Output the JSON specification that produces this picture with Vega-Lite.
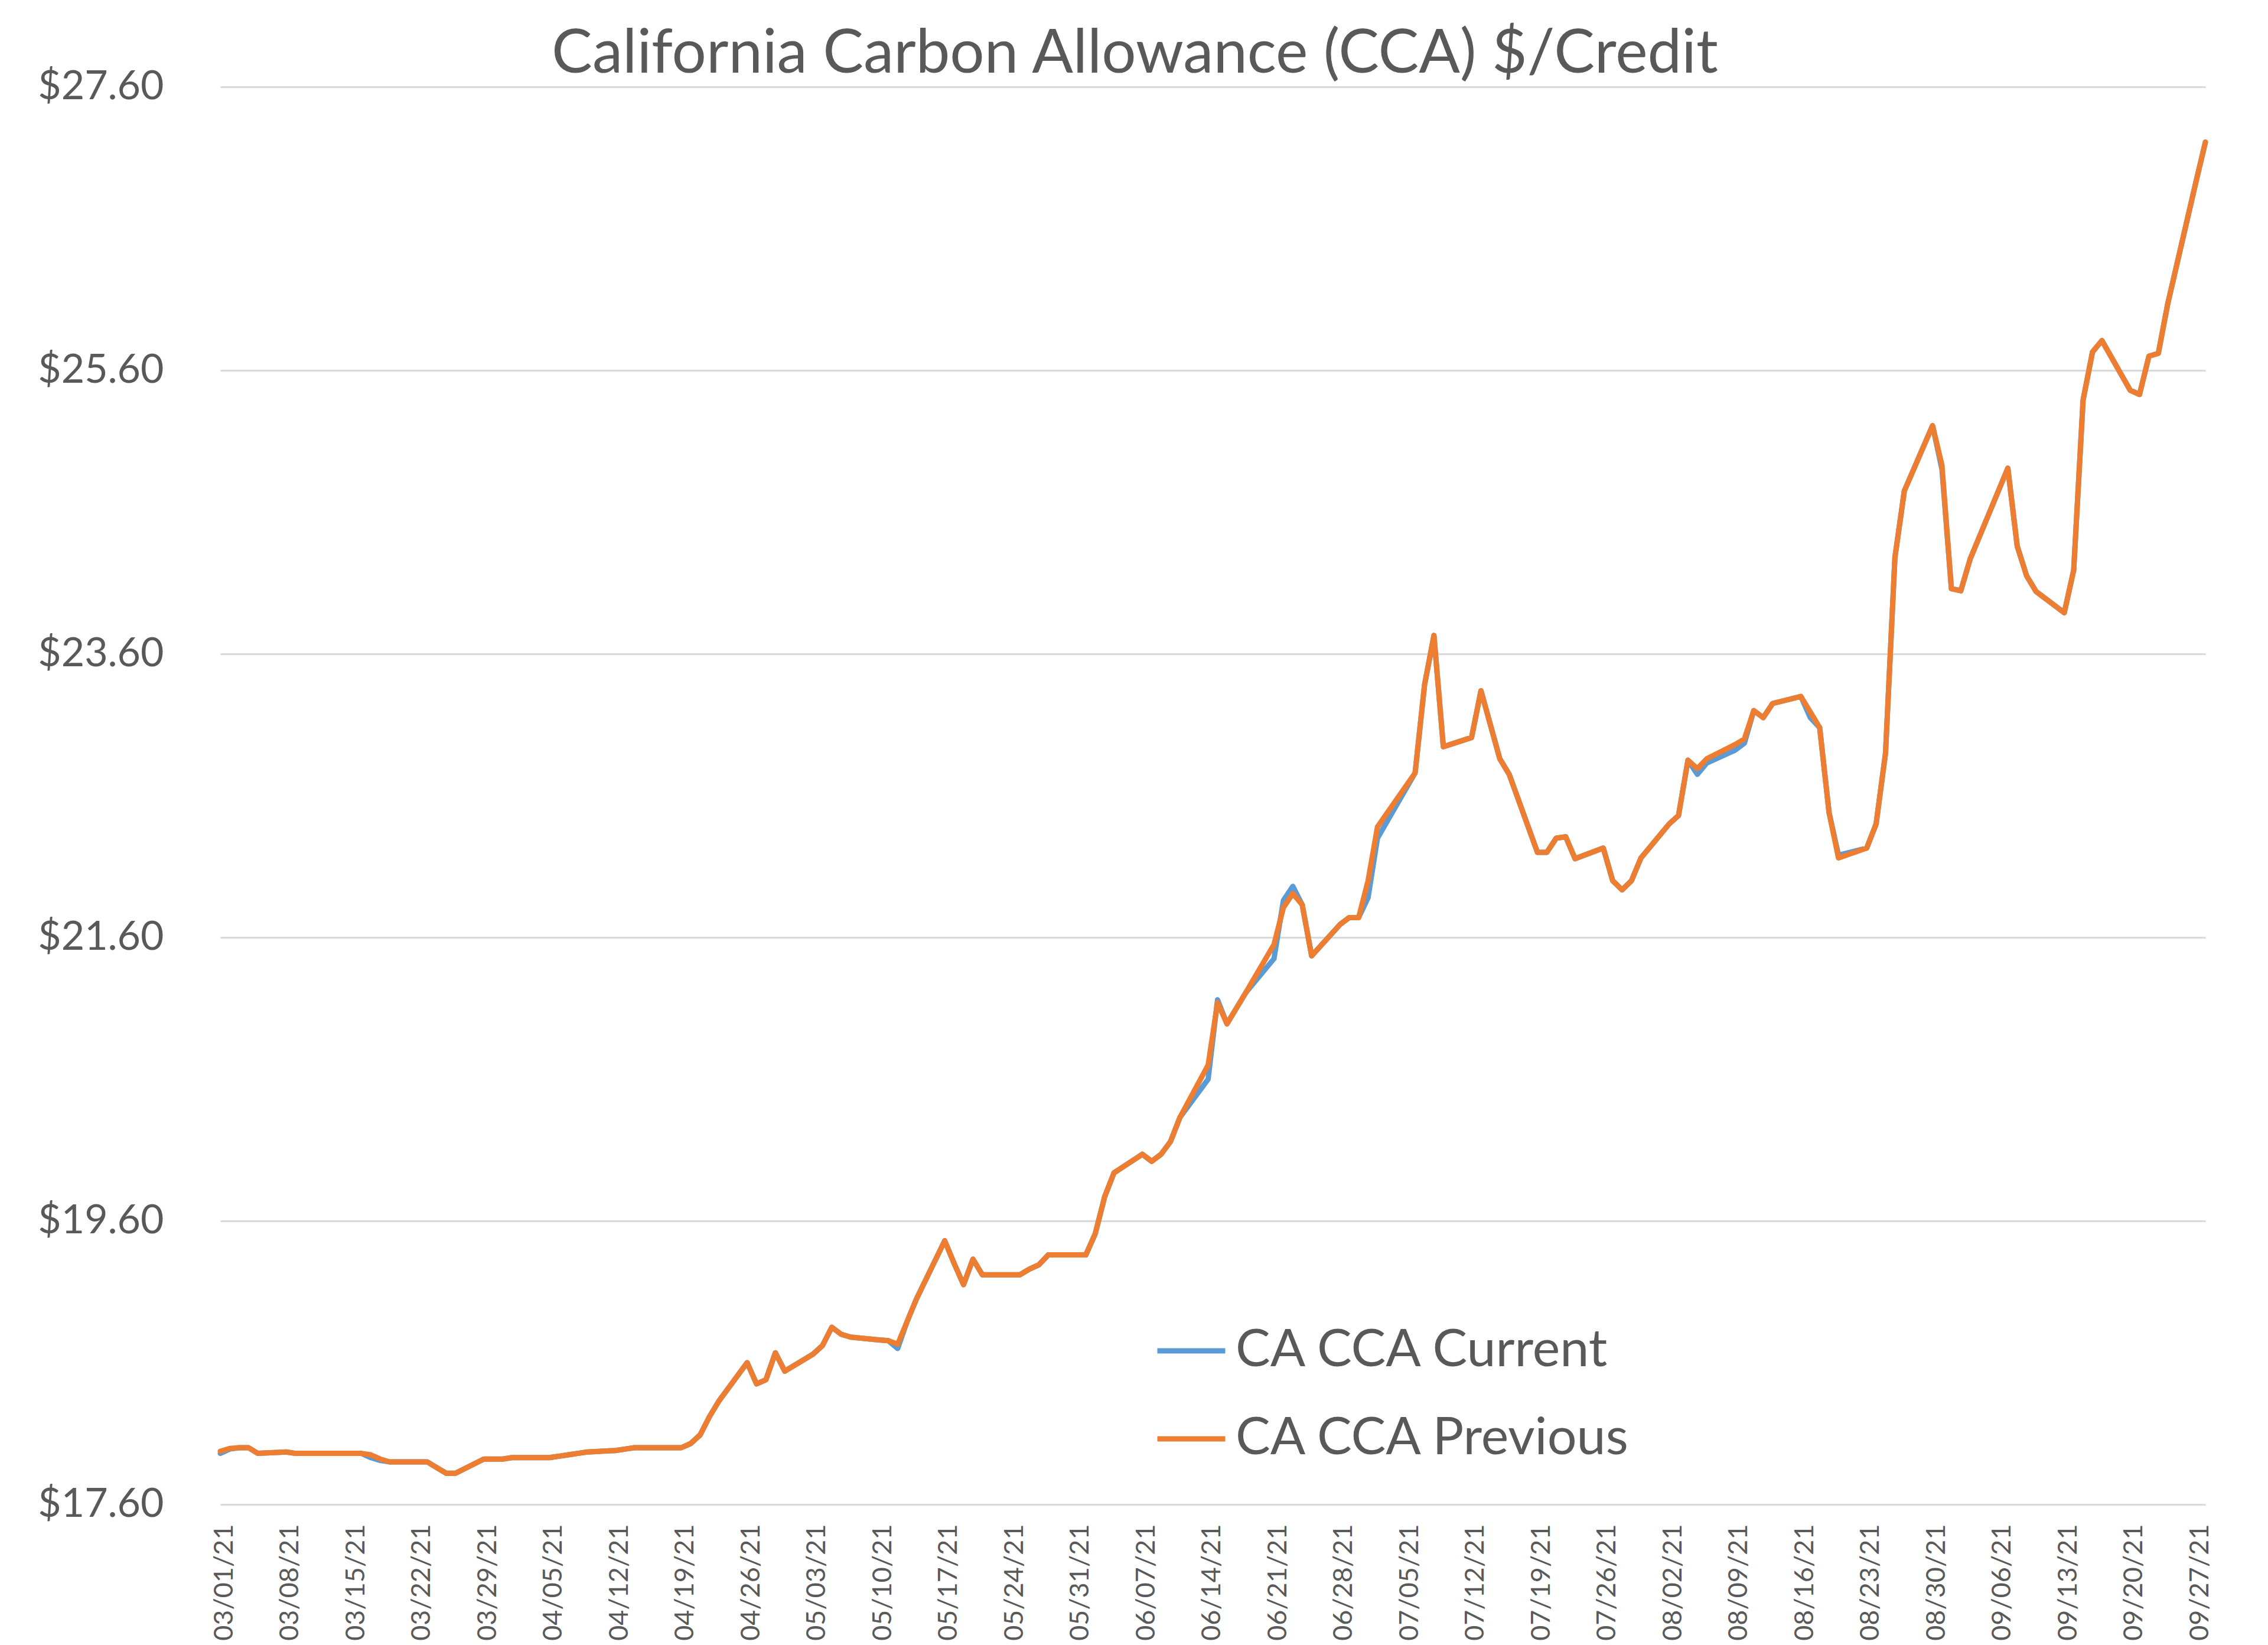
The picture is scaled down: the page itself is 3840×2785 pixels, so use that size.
{
  "$schema": "https://vega.github.io/schema/vega-lite/v6.json",
  "width": 3361,
  "height": 2400,
  "autosize": {"type": "none"},
  "padding": {"left": 373, "top": 147, "right": 106, "bottom": 238},
  "background": "white",
  "title": {
    "text": "California Carbon Allowance (CCA) $/Credit",
    "font": "Lato", "fontSize": 103, "fontWeight": "normal", "color": "#595959",
    "frame": "group", "anchor": "middle", "offset": -32, "baseline": "top", "dx": -132
  },
  "config": {"view": {"stroke": null}, "font": "Lato"},
  "data": {"values": [
    {"date":"2021-03-01","series":"CA CCA Current","price":17.96},
    {"date":"2021-03-02","series":"CA CCA Current","price":17.99},
    {"date":"2021-03-03","series":"CA CCA Current","price":18.0},
    {"date":"2021-03-04","series":"CA CCA Current","price":18.0},
    {"date":"2021-03-05","series":"CA CCA Current","price":17.96},
    {"date":"2021-03-08","series":"CA CCA Current","price":17.97},
    {"date":"2021-03-09","series":"CA CCA Current","price":17.96},
    {"date":"2021-03-10","series":"CA CCA Current","price":17.96},
    {"date":"2021-03-11","series":"CA CCA Current","price":17.96},
    {"date":"2021-03-12","series":"CA CCA Current","price":17.96},
    {"date":"2021-03-15","series":"CA CCA Current","price":17.96},
    {"date":"2021-03-16","series":"CA CCA Current","price":17.96},
    {"date":"2021-03-17","series":"CA CCA Current","price":17.93},
    {"date":"2021-03-18","series":"CA CCA Current","price":17.91},
    {"date":"2021-03-19","series":"CA CCA Current","price":17.9},
    {"date":"2021-03-22","series":"CA CCA Current","price":17.9},
    {"date":"2021-03-23","series":"CA CCA Current","price":17.9},
    {"date":"2021-03-24","series":"CA CCA Current","price":17.86},
    {"date":"2021-03-25","series":"CA CCA Current","price":17.82},
    {"date":"2021-03-26","series":"CA CCA Current","price":17.82},
    {"date":"2021-03-29","series":"CA CCA Current","price":17.92},
    {"date":"2021-03-30","series":"CA CCA Current","price":17.92},
    {"date":"2021-03-31","series":"CA CCA Current","price":17.92},
    {"date":"2021-04-01","series":"CA CCA Current","price":17.93},
    {"date":"2021-04-05","series":"CA CCA Current","price":17.93},
    {"date":"2021-04-06","series":"CA CCA Current","price":17.94},
    {"date":"2021-04-07","series":"CA CCA Current","price":17.95},
    {"date":"2021-04-08","series":"CA CCA Current","price":17.96},
    {"date":"2021-04-09","series":"CA CCA Current","price":17.97},
    {"date":"2021-04-12","series":"CA CCA Current","price":17.98},
    {"date":"2021-04-13","series":"CA CCA Current","price":17.99},
    {"date":"2021-04-14","series":"CA CCA Current","price":18.0},
    {"date":"2021-04-15","series":"CA CCA Current","price":18.0},
    {"date":"2021-04-16","series":"CA CCA Current","price":18.0},
    {"date":"2021-04-19","series":"CA CCA Current","price":18.0},
    {"date":"2021-04-20","series":"CA CCA Current","price":18.03},
    {"date":"2021-04-21","series":"CA CCA Current","price":18.09},
    {"date":"2021-04-22","series":"CA CCA Current","price":18.22},
    {"date":"2021-04-23","series":"CA CCA Current","price":18.33},
    {"date":"2021-04-26","series":"CA CCA Current","price":18.6},
    {"date":"2021-04-27","series":"CA CCA Current","price":18.45},
    {"date":"2021-04-28","series":"CA CCA Current","price":18.48},
    {"date":"2021-04-29","series":"CA CCA Current","price":18.67},
    {"date":"2021-04-30","series":"CA CCA Current","price":18.54},
    {"date":"2021-05-03","series":"CA CCA Current","price":18.66},
    {"date":"2021-05-04","series":"CA CCA Current","price":18.72},
    {"date":"2021-05-05","series":"CA CCA Current","price":18.85},
    {"date":"2021-05-06","series":"CA CCA Current","price":18.8},
    {"date":"2021-05-07","series":"CA CCA Current","price":18.78},
    {"date":"2021-05-10","series":"CA CCA Current","price":18.76},
    {"date":"2021-05-11","series":"CA CCA Current","price":18.755},
    {"date":"2021-05-12","series":"CA CCA Current","price":18.7},
    {"date":"2021-05-13","series":"CA CCA Current","price":18.89},
    {"date":"2021-05-14","series":"CA CCA Current","price":19.05},
    {"date":"2021-05-17","series":"CA CCA Current","price":19.46},
    {"date":"2021-05-18","series":"CA CCA Current","price":19.3},
    {"date":"2021-05-19","series":"CA CCA Current","price":19.15},
    {"date":"2021-05-20","series":"CA CCA Current","price":19.33},
    {"date":"2021-05-21","series":"CA CCA Current","price":19.22},
    {"date":"2021-05-24","series":"CA CCA Current","price":19.22},
    {"date":"2021-05-25","series":"CA CCA Current","price":19.22},
    {"date":"2021-05-26","series":"CA CCA Current","price":19.26},
    {"date":"2021-05-27","series":"CA CCA Current","price":19.29},
    {"date":"2021-05-28","series":"CA CCA Current","price":19.36},
    {"date":"2021-06-01","series":"CA CCA Current","price":19.36},
    {"date":"2021-06-02","series":"CA CCA Current","price":19.51},
    {"date":"2021-06-03","series":"CA CCA Current","price":19.77},
    {"date":"2021-06-04","series":"CA CCA Current","price":19.94},
    {"date":"2021-06-07","series":"CA CCA Current","price":20.07},
    {"date":"2021-06-08","series":"CA CCA Current","price":20.02},
    {"date":"2021-06-09","series":"CA CCA Current","price":20.07},
    {"date":"2021-06-10","series":"CA CCA Current","price":20.16},
    {"date":"2021-06-11","series":"CA CCA Current","price":20.33},
    {"date":"2021-06-14","series":"CA CCA Current","price":20.6},
    {"date":"2021-06-15","series":"CA CCA Current","price":21.16},
    {"date":"2021-06-16","series":"CA CCA Current","price":20.99},
    {"date":"2021-06-17","series":"CA CCA Current","price":21.1},
    {"date":"2021-06-18","series":"CA CCA Current","price":21.21},
    {"date":"2021-06-21","series":"CA CCA Current","price":21.45},
    {"date":"2021-06-22","series":"CA CCA Current","price":21.86},
    {"date":"2021-06-23","series":"CA CCA Current","price":21.96},
    {"date":"2021-06-24","series":"CA CCA Current","price":21.83},
    {"date":"2021-06-25","series":"CA CCA Current","price":21.47},
    {"date":"2021-06-28","series":"CA CCA Current","price":21.69},
    {"date":"2021-06-29","series":"CA CCA Current","price":21.74},
    {"date":"2021-06-30","series":"CA CCA Current","price":21.74},
    {"date":"2021-07-01","series":"CA CCA Current","price":21.88},
    {"date":"2021-07-02","series":"CA CCA Current","price":22.3},
    {"date":"2021-07-06","series":"CA CCA Current","price":22.76},
    {"date":"2021-07-07","series":"CA CCA Current","price":23.38},
    {"date":"2021-07-08","series":"CA CCA Current","price":23.73},
    {"date":"2021-07-09","series":"CA CCA Current","price":22.945},
    {"date":"2021-07-12","series":"CA CCA Current","price":23.01},
    {"date":"2021-07-13","series":"CA CCA Current","price":23.34},
    {"date":"2021-07-14","series":"CA CCA Current","price":23.1},
    {"date":"2021-07-15","series":"CA CCA Current","price":22.86},
    {"date":"2021-07-16","series":"CA CCA Current","price":22.75},
    {"date":"2021-07-19","series":"CA CCA Current","price":22.2},
    {"date":"2021-07-20","series":"CA CCA Current","price":22.2},
    {"date":"2021-07-21","series":"CA CCA Current","price":22.3},
    {"date":"2021-07-22","series":"CA CCA Current","price":22.31},
    {"date":"2021-07-23","series":"CA CCA Current","price":22.155},
    {"date":"2021-07-26","series":"CA CCA Current","price":22.23},
    {"date":"2021-07-27","series":"CA CCA Current","price":22.0},
    {"date":"2021-07-28","series":"CA CCA Current","price":21.935},
    {"date":"2021-07-29","series":"CA CCA Current","price":22.0},
    {"date":"2021-07-30","series":"CA CCA Current","price":22.16},
    {"date":"2021-08-02","series":"CA CCA Current","price":22.4},
    {"date":"2021-08-03","series":"CA CCA Current","price":22.46},
    {"date":"2021-08-04","series":"CA CCA Current","price":22.85},
    {"date":"2021-08-05","series":"CA CCA Current","price":22.75},
    {"date":"2021-08-06","series":"CA CCA Current","price":22.83},
    {"date":"2021-08-09","series":"CA CCA Current","price":22.92},
    {"date":"2021-08-10","series":"CA CCA Current","price":22.97},
    {"date":"2021-08-11","series":"CA CCA Current","price":23.2},
    {"date":"2021-08-12","series":"CA CCA Current","price":23.15},
    {"date":"2021-08-13","series":"CA CCA Current","price":23.25},
    {"date":"2021-08-16","series":"CA CCA Current","price":23.3},
    {"date":"2021-08-17","series":"CA CCA Current","price":23.15},
    {"date":"2021-08-18","series":"CA CCA Current","price":23.08},
    {"date":"2021-08-19","series":"CA CCA Current","price":22.48},
    {"date":"2021-08-20","series":"CA CCA Current","price":22.18},
    {"date":"2021-08-23","series":"CA CCA Current","price":22.23},
    {"date":"2021-08-24","series":"CA CCA Current","price":22.4},
    {"date":"2021-08-25","series":"CA CCA Current","price":22.9},
    {"date":"2021-08-26","series":"CA CCA Current","price":24.28},
    {"date":"2021-08-27","series":"CA CCA Current","price":24.75},
    {"date":"2021-08-30","series":"CA CCA Current","price":25.21},
    {"date":"2021-08-31","series":"CA CCA Current","price":24.9},
    {"date":"2021-09-01","series":"CA CCA Current","price":24.06},
    {"date":"2021-09-02","series":"CA CCA Current","price":24.045},
    {"date":"2021-09-03","series":"CA CCA Current","price":24.27},
    {"date":"2021-09-07","series":"CA CCA Current","price":24.91},
    {"date":"2021-09-08","series":"CA CCA Current","price":24.36},
    {"date":"2021-09-09","series":"CA CCA Current","price":24.15},
    {"date":"2021-09-10","series":"CA CCA Current","price":24.04},
    {"date":"2021-09-13","series":"CA CCA Current","price":23.89},
    {"date":"2021-09-14","series":"CA CCA Current","price":24.19},
    {"date":"2021-09-15","series":"CA CCA Current","price":25.39},
    {"date":"2021-09-16","series":"CA CCA Current","price":25.73},
    {"date":"2021-09-17","series":"CA CCA Current","price":25.81},
    {"date":"2021-09-20","series":"CA CCA Current","price":25.46},
    {"date":"2021-09-21","series":"CA CCA Current","price":25.43},
    {"date":"2021-09-22","series":"CA CCA Current","price":25.7},
    {"date":"2021-09-23","series":"CA CCA Current","price":25.72},
    {"date":"2021-09-24","series":"CA CCA Current","price":26.07},
    {"date":"2021-09-27","series":"CA CCA Current","price":26.93},
    {"date":"2021-09-28","series":"CA CCA Current","price":27.21},
    {"date":"2021-03-01","series":"CA CCA Previous","price":17.975},
    {"date":"2021-03-02","series":"CA CCA Previous","price":17.995},
    {"date":"2021-03-03","series":"CA CCA Previous","price":18.0},
    {"date":"2021-03-04","series":"CA CCA Previous","price":18.0},
    {"date":"2021-03-05","series":"CA CCA Previous","price":17.96},
    {"date":"2021-03-08","series":"CA CCA Previous","price":17.97},
    {"date":"2021-03-09","series":"CA CCA Previous","price":17.96},
    {"date":"2021-03-10","series":"CA CCA Previous","price":17.96},
    {"date":"2021-03-11","series":"CA CCA Previous","price":17.96},
    {"date":"2021-03-12","series":"CA CCA Previous","price":17.96},
    {"date":"2021-03-15","series":"CA CCA Previous","price":17.96},
    {"date":"2021-03-16","series":"CA CCA Previous","price":17.96},
    {"date":"2021-03-17","series":"CA CCA Previous","price":17.95},
    {"date":"2021-03-18","series":"CA CCA Previous","price":17.92},
    {"date":"2021-03-19","series":"CA CCA Previous","price":17.9},
    {"date":"2021-03-22","series":"CA CCA Previous","price":17.9},
    {"date":"2021-03-23","series":"CA CCA Previous","price":17.9},
    {"date":"2021-03-24","series":"CA CCA Previous","price":17.86},
    {"date":"2021-03-25","series":"CA CCA Previous","price":17.82},
    {"date":"2021-03-26","series":"CA CCA Previous","price":17.82},
    {"date":"2021-03-29","series":"CA CCA Previous","price":17.92},
    {"date":"2021-03-30","series":"CA CCA Previous","price":17.92},
    {"date":"2021-03-31","series":"CA CCA Previous","price":17.92},
    {"date":"2021-04-01","series":"CA CCA Previous","price":17.93},
    {"date":"2021-04-05","series":"CA CCA Previous","price":17.93},
    {"date":"2021-04-06","series":"CA CCA Previous","price":17.94},
    {"date":"2021-04-07","series":"CA CCA Previous","price":17.95},
    {"date":"2021-04-08","series":"CA CCA Previous","price":17.96},
    {"date":"2021-04-09","series":"CA CCA Previous","price":17.97},
    {"date":"2021-04-12","series":"CA CCA Previous","price":17.98},
    {"date":"2021-04-13","series":"CA CCA Previous","price":17.99},
    {"date":"2021-04-14","series":"CA CCA Previous","price":18.0},
    {"date":"2021-04-15","series":"CA CCA Previous","price":18.0},
    {"date":"2021-04-16","series":"CA CCA Previous","price":18.0},
    {"date":"2021-04-19","series":"CA CCA Previous","price":18.0},
    {"date":"2021-04-20","series":"CA CCA Previous","price":18.03},
    {"date":"2021-04-21","series":"CA CCA Previous","price":18.09},
    {"date":"2021-04-22","series":"CA CCA Previous","price":18.22},
    {"date":"2021-04-23","series":"CA CCA Previous","price":18.33},
    {"date":"2021-04-26","series":"CA CCA Previous","price":18.6},
    {"date":"2021-04-27","series":"CA CCA Previous","price":18.45},
    {"date":"2021-04-28","series":"CA CCA Previous","price":18.48},
    {"date":"2021-04-29","series":"CA CCA Previous","price":18.67},
    {"date":"2021-04-30","series":"CA CCA Previous","price":18.54},
    {"date":"2021-05-03","series":"CA CCA Previous","price":18.66},
    {"date":"2021-05-04","series":"CA CCA Previous","price":18.72},
    {"date":"2021-05-05","series":"CA CCA Previous","price":18.85},
    {"date":"2021-05-06","series":"CA CCA Previous","price":18.8},
    {"date":"2021-05-07","series":"CA CCA Previous","price":18.78},
    {"date":"2021-05-10","series":"CA CCA Previous","price":18.76},
    {"date":"2021-05-11","series":"CA CCA Previous","price":18.755},
    {"date":"2021-05-12","series":"CA CCA Previous","price":18.73},
    {"date":"2021-05-13","series":"CA CCA Previous","price":18.89},
    {"date":"2021-05-14","series":"CA CCA Previous","price":19.05},
    {"date":"2021-05-17","series":"CA CCA Previous","price":19.46},
    {"date":"2021-05-18","series":"CA CCA Previous","price":19.3},
    {"date":"2021-05-19","series":"CA CCA Previous","price":19.15},
    {"date":"2021-05-20","series":"CA CCA Previous","price":19.33},
    {"date":"2021-05-21","series":"CA CCA Previous","price":19.22},
    {"date":"2021-05-24","series":"CA CCA Previous","price":19.22},
    {"date":"2021-05-25","series":"CA CCA Previous","price":19.22},
    {"date":"2021-05-26","series":"CA CCA Previous","price":19.26},
    {"date":"2021-05-27","series":"CA CCA Previous","price":19.29},
    {"date":"2021-05-28","series":"CA CCA Previous","price":19.36},
    {"date":"2021-06-01","series":"CA CCA Previous","price":19.36},
    {"date":"2021-06-02","series":"CA CCA Previous","price":19.51},
    {"date":"2021-06-03","series":"CA CCA Previous","price":19.77},
    {"date":"2021-06-04","series":"CA CCA Previous","price":19.94},
    {"date":"2021-06-07","series":"CA CCA Previous","price":20.07},
    {"date":"2021-06-08","series":"CA CCA Previous","price":20.02},
    {"date":"2021-06-09","series":"CA CCA Previous","price":20.07},
    {"date":"2021-06-10","series":"CA CCA Previous","price":20.16},
    {"date":"2021-06-11","series":"CA CCA Previous","price":20.33},
    {"date":"2021-06-14","series":"CA CCA Previous","price":20.7},
    {"date":"2021-06-15","series":"CA CCA Previous","price":21.14},
    {"date":"2021-06-16","series":"CA CCA Previous","price":20.99},
    {"date":"2021-06-17","series":"CA CCA Previous","price":21.1},
    {"date":"2021-06-18","series":"CA CCA Previous","price":21.21},
    {"date":"2021-06-21","series":"CA CCA Previous","price":21.55},
    {"date":"2021-06-22","series":"CA CCA Previous","price":21.81},
    {"date":"2021-06-23","series":"CA CCA Previous","price":21.91},
    {"date":"2021-06-24","series":"CA CCA Previous","price":21.83},
    {"date":"2021-06-25","series":"CA CCA Previous","price":21.47},
    {"date":"2021-06-28","series":"CA CCA Previous","price":21.69},
    {"date":"2021-06-29","series":"CA CCA Previous","price":21.74},
    {"date":"2021-06-30","series":"CA CCA Previous","price":21.74},
    {"date":"2021-07-01","series":"CA CCA Previous","price":22.0},
    {"date":"2021-07-02","series":"CA CCA Previous","price":22.38},
    {"date":"2021-07-06","series":"CA CCA Previous","price":22.76},
    {"date":"2021-07-07","series":"CA CCA Previous","price":23.38},
    {"date":"2021-07-08","series":"CA CCA Previous","price":23.73},
    {"date":"2021-07-09","series":"CA CCA Previous","price":22.945},
    {"date":"2021-07-12","series":"CA CCA Previous","price":23.01},
    {"date":"2021-07-13","series":"CA CCA Previous","price":23.34},
    {"date":"2021-07-14","series":"CA CCA Previous","price":23.1},
    {"date":"2021-07-15","series":"CA CCA Previous","price":22.86},
    {"date":"2021-07-16","series":"CA CCA Previous","price":22.75},
    {"date":"2021-07-19","series":"CA CCA Previous","price":22.2},
    {"date":"2021-07-20","series":"CA CCA Previous","price":22.2},
    {"date":"2021-07-21","series":"CA CCA Previous","price":22.3},
    {"date":"2021-07-22","series":"CA CCA Previous","price":22.31},
    {"date":"2021-07-23","series":"CA CCA Previous","price":22.155},
    {"date":"2021-07-26","series":"CA CCA Previous","price":22.23},
    {"date":"2021-07-27","series":"CA CCA Previous","price":22.0},
    {"date":"2021-07-28","series":"CA CCA Previous","price":21.935},
    {"date":"2021-07-29","series":"CA CCA Previous","price":22.0},
    {"date":"2021-07-30","series":"CA CCA Previous","price":22.16},
    {"date":"2021-08-02","series":"CA CCA Previous","price":22.4},
    {"date":"2021-08-03","series":"CA CCA Previous","price":22.46},
    {"date":"2021-08-04","series":"CA CCA Previous","price":22.85},
    {"date":"2021-08-05","series":"CA CCA Previous","price":22.79},
    {"date":"2021-08-06","series":"CA CCA Previous","price":22.86},
    {"date":"2021-08-09","series":"CA CCA Previous","price":22.96},
    {"date":"2021-08-10","series":"CA CCA Previous","price":23.0},
    {"date":"2021-08-11","series":"CA CCA Previous","price":23.2},
    {"date":"2021-08-12","series":"CA CCA Previous","price":23.15},
    {"date":"2021-08-13","series":"CA CCA Previous","price":23.25},
    {"date":"2021-08-16","series":"CA CCA Previous","price":23.3},
    {"date":"2021-08-17","series":"CA CCA Previous","price":23.19},
    {"date":"2021-08-18","series":"CA CCA Previous","price":23.08},
    {"date":"2021-08-19","series":"CA CCA Previous","price":22.48},
    {"date":"2021-08-20","series":"CA CCA Previous","price":22.16},
    {"date":"2021-08-23","series":"CA CCA Previous","price":22.23},
    {"date":"2021-08-24","series":"CA CCA Previous","price":22.4},
    {"date":"2021-08-25","series":"CA CCA Previous","price":22.9},
    {"date":"2021-08-26","series":"CA CCA Previous","price":24.28},
    {"date":"2021-08-27","series":"CA CCA Previous","price":24.75},
    {"date":"2021-08-30","series":"CA CCA Previous","price":25.21},
    {"date":"2021-08-31","series":"CA CCA Previous","price":24.93},
    {"date":"2021-09-01","series":"CA CCA Previous","price":24.06},
    {"date":"2021-09-02","series":"CA CCA Previous","price":24.045},
    {"date":"2021-09-03","series":"CA CCA Previous","price":24.27},
    {"date":"2021-09-07","series":"CA CCA Previous","price":24.91},
    {"date":"2021-09-08","series":"CA CCA Previous","price":24.36},
    {"date":"2021-09-09","series":"CA CCA Previous","price":24.15},
    {"date":"2021-09-10","series":"CA CCA Previous","price":24.04},
    {"date":"2021-09-13","series":"CA CCA Previous","price":23.89},
    {"date":"2021-09-14","series":"CA CCA Previous","price":24.19},
    {"date":"2021-09-15","series":"CA CCA Previous","price":25.39},
    {"date":"2021-09-16","series":"CA CCA Previous","price":25.73},
    {"date":"2021-09-17","series":"CA CCA Previous","price":25.81},
    {"date":"2021-09-20","series":"CA CCA Previous","price":25.46},
    {"date":"2021-09-21","series":"CA CCA Previous","price":25.43},
    {"date":"2021-09-22","series":"CA CCA Previous","price":25.7},
    {"date":"2021-09-23","series":"CA CCA Previous","price":25.72},
    {"date":"2021-09-24","series":"CA CCA Previous","price":26.07},
    {"date":"2021-09-27","series":"CA CCA Previous","price":26.93},
    {"date":"2021-09-28","series":"CA CCA Previous","price":27.21}
  ]},
  "mark": {"type": "line", "strokeWidth": 9, "strokeJoin": "round", "strokeCap": "round"},
  "encoding": {
    "x": {
      "field": "date", "type": "temporal",
      "scale": {"type": "utc", "domain": [{"year": 2021, "month": 3, "date": 1, "utc": true}, {"year": 2021, "month": 9, "date": 28, "utc": true}], "nice": false, "padding": 0},
      "axis": {
        "title": null, "format": "%m/%d/%y", "labelAngle": 270, "labelAlign": "right", "labelBaseline": "middle",
        "labelFont": "Lato", "labelFontSize": 45, "labelColor": "#595959", "labelPadding": 33, "labelLimit": 1000, "labelOffset": 6,
        "ticks": false, "tickSize": 0, "domain": false, "grid": false, "labelOverlap": false, "labelFlush": false,
        "values": [
          {"year": 2021, "month": 3, "date": 1, "utc": true},
          {"year": 2021, "month": 3, "date": 8, "utc": true},
          {"year": 2021, "month": 3, "date": 15, "utc": true},
          {"year": 2021, "month": 3, "date": 22, "utc": true},
          {"year": 2021, "month": 3, "date": 29, "utc": true},
          {"year": 2021, "month": 4, "date": 5, "utc": true},
          {"year": 2021, "month": 4, "date": 12, "utc": true},
          {"year": 2021, "month": 4, "date": 19, "utc": true},
          {"year": 2021, "month": 4, "date": 26, "utc": true},
          {"year": 2021, "month": 5, "date": 3, "utc": true},
          {"year": 2021, "month": 5, "date": 10, "utc": true},
          {"year": 2021, "month": 5, "date": 17, "utc": true},
          {"year": 2021, "month": 5, "date": 24, "utc": true},
          {"year": 2021, "month": 5, "date": 31, "utc": true},
          {"year": 2021, "month": 6, "date": 7, "utc": true},
          {"year": 2021, "month": 6, "date": 14, "utc": true},
          {"year": 2021, "month": 6, "date": 21, "utc": true},
          {"year": 2021, "month": 6, "date": 28, "utc": true},
          {"year": 2021, "month": 7, "date": 5, "utc": true},
          {"year": 2021, "month": 7, "date": 12, "utc": true},
          {"year": 2021, "month": 7, "date": 19, "utc": true},
          {"year": 2021, "month": 7, "date": 26, "utc": true},
          {"year": 2021, "month": 8, "date": 2, "utc": true},
          {"year": 2021, "month": 8, "date": 9, "utc": true},
          {"year": 2021, "month": 8, "date": 16, "utc": true},
          {"year": 2021, "month": 8, "date": 23, "utc": true},
          {"year": 2021, "month": 8, "date": 30, "utc": true},
          {"year": 2021, "month": 9, "date": 6, "utc": true},
          {"year": 2021, "month": 9, "date": 13, "utc": true},
          {"year": 2021, "month": 9, "date": 20, "utc": true},
          {"year": 2021, "month": 9, "date": 27, "utc": true}
        ]
      }
    },
    "y": {
      "field": "price", "type": "quantitative",
      "scale": {"domain": [17.6, 27.6], "nice": false, "zero": false},
      "axis": {
        "title": null, "values": [17.6, 19.6, 21.6, 23.6, 25.6, 27.6], "format": "$.2f",
        "labelFont": "Lato", "labelFontSize": 68, "labelColor": "#595959", "labelPadding": 96, "labelLimit": 1000,
        "ticks": false, "tickSize": 0, "domain": false,
        "grid": true, "gridColor": "#D9D9D9", "gridWidth": 3, "labelOverlap": false
      }
    },
    "color": {
      "field": "series", "type": "nominal",
      "scale": {"domain": ["CA CCA Current", "CA CCA Previous"], "range": ["#5B9BD5", "#ED7D31"]},
      "legend": {
        "title": null, "orient": "none", "legendX": 1582, "legendY": 2078, "direction": "vertical",
        "labelFont": "Lato", "labelFontSize": 88, "labelColor": "#595959", "labelLimit": 3000,
        "symbolType": "stroke", "symbolSize": 13225, "symbolStrokeWidth": 9, "rowPadding": 43,
        "labelOffset": 13, "padding": 0
      }
    }
  }
}
